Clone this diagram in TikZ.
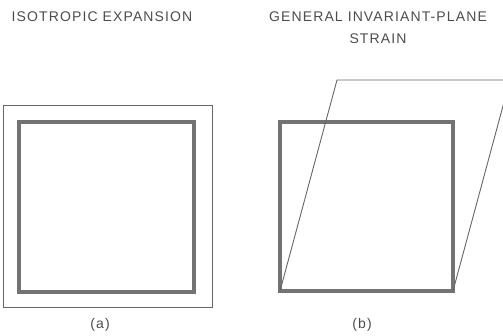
\documentclass[tikz,border=0pt]{standalone}
\usepackage{fontspec}
\setmainfont{Liberation Sans}
\newfontfamily\capfont[LetterSpace=8]{Liberation Sans}
\begin{document}
\begin{tikzpicture}[x=1pt,y=-1pt,
  thickbox/.style={draw=black!55, line width=3.5pt},
  thinline/.style={draw=black!60, line width=0.9pt},
  caption/.style={text=black!70, font=\capfont\fontsize{14}{22}\selectfont, inner sep=0pt, align=center},
  sublabel/.style={text=black!70, font=\capfont\fontsize{14}{16}\selectfont, inner sep=0pt}]
\useasboundingbox (0,0) rectangle (503,335);
\begin{scope}
\clip (0,0) rectangle (503,335);
% (a)
\draw[thinline] (3,105) rectangle (212,307);
\draw[thickbox] (19,122) rectangle (194,292);
% (b)
\draw[thickbox] (280,122) rectangle (453,291);
\coordinate (bl) at (280,291);
\coordinate (tl) at (337,80);
\coordinate (tr) at (510,80);
\coordinate (br) at (453,291);
\draw[thinline, line join=miter] (bl) -- (tl) -- (tr) -- (br);
\end{scope}
\node[caption] (ta) at (102,17) {ISOTROPIC EXPANSION};
\node[caption, anchor=north] (tb) at (378,12) {GENERAL INVARIANT-PLANE\\STRAIN};
\node[sublabel] (la) at (100,325) {(a)};
\node[sublabel] (lb) at (362,325) {(b)};
\end{tikzpicture}
\end{document}
